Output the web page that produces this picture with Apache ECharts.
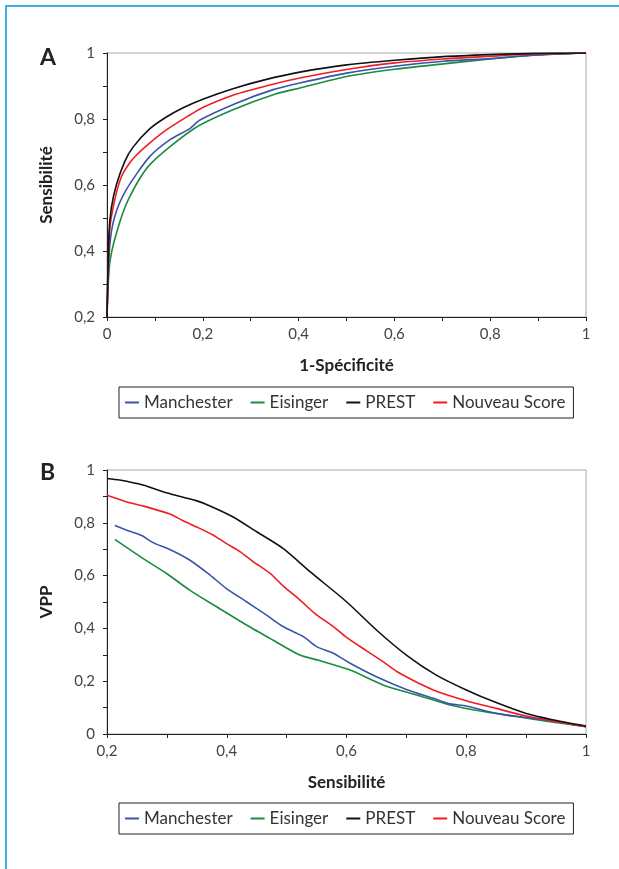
<!DOCTYPE html>
<html><head><meta charset="utf-8">
<script src="https://cdn.jsdelivr.net/npm/echarts@6/dist/echarts.min.js"></script>
<style>
html,body{margin:0;padding:0;background:#fff;}
#chart{width:619px;height:869px;}
#frame{position:absolute;left:5px;top:5px;width:620px;height:870px;border-top:2px solid #3fb0e3;border-left:2px solid #3fb0e3;pointer-events:none;}
</style></head>
<body><div id="chart"></div><div id="frame"></div>
<script>
// Panel A : ROC curves [1-Spécificité, Sensibilité]
const rocManchester = [[0,0.2],[0.0056,0.413],[0.016,0.504],[0.04,0.585],[0.089,0.686],[0.131,0.737],[0.173,0.771],[0.194,0.797],[0.27,0.848],[0.347,0.889],[0.4025,0.909],[0.5,0.939],[0.601,0.96],[0.702,0.975],[0.8,0.983],[0.89,0.993],[1,1]];
const rocEisinger = [[0,0.2],[0.0056,0.362],[0.0195,0.453],[0.044,0.554],[0.089,0.661],[0.183,0.772],[0.263,0.828],[0.35,0.875],[0.4025,0.894],[0.5,0.929],[0.601,0.951],[0.702,0.967],[0.8,0.982],[0.89,0.993],[1,1]];
const rocPREST = [[0,0.2],[0.004,0.45],[0.009,0.53],[0.0195,0.6],[0.037,0.671],[0.054,0.714],[0.089,0.77],[0.124,0.806],[0.159,0.834],[0.2,0.86],[0.263,0.892],[0.333,0.92],[0.4025,0.942],[0.5,0.964],[0.601,0.978],[0.702,0.989],[0.8,0.995],[0.89,0.999],[1,1]];
const rocNouveau = [[0,0.2],[0.0056,0.463],[0.016,0.554],[0.03,0.625],[0.044,0.66],[0.061,0.69],[0.089,0.727],[0.124,0.767],[0.173,0.812],[0.2,0.835],[0.263,0.872],[0.34,0.903],[0.4025,0.924],[0.5,0.95],[0.601,0.97],[0.702,0.982],[0.8,0.99],[0.89,0.997],[1,1]];
// Panel B : [Sensibilité, VPP]
const vppManchester = [[0.213,0.79],[0.232,0.773],[0.257,0.753],[0.277,0.725],[0.305,0.699],[0.338,0.659],[0.372,0.602],[0.399,0.552],[0.433,0.501],[0.466,0.451],[0.494,0.407],[0.528,0.369],[0.55,0.331],[0.578,0.306],[0.606,0.268],[0.65,0.217],[0.7,0.169],[0.745,0.135],[0.773,0.114],[0.8,0.106],[0.85,0.078],[0.9,0.062],[0.951,0.047],[1,0.028]];
const vppEisinger = [[0.213,0.737],[0.26,0.665],[0.299,0.609],[0.338,0.545],[0.383,0.482],[0.433,0.413],[0.477,0.356],[0.522,0.299],[0.555,0.278],[0.606,0.242],[0.661,0.186],[0.717,0.148],[0.773,0.11],[0.829,0.085],[0.884,0.066],[0.94,0.047],[1,0.028]];
const vppPREST = [[0.2,0.968],[0.221,0.962],[0.26,0.943],[0.299,0.914],[0.349,0.884],[0.372,0.864],[0.41,0.823],[0.45,0.766],[0.494,0.703],[0.539,0.615],[0.6,0.501],[0.65,0.394],[0.7,0.299],[0.75,0.223],[0.8,0.167],[0.85,0.119],[0.9,0.078],[0.951,0.051],[1,0.03]];
const vppNouveau = [[0.2,0.904],[0.232,0.88],[0.26,0.864],[0.305,0.833],[0.327,0.808],[0.349,0.785],[0.377,0.754],[0.399,0.722],[0.422,0.691],[0.444,0.653],[0.472,0.609],[0.494,0.561],[0.522,0.508],[0.55,0.451],[0.578,0.407],[0.6,0.366],[0.633,0.316],[0.661,0.274],[0.689,0.23],[0.745,0.167],[0.8,0.126],[0.85,0.097],[0.9,0.068],[0.951,0.047],[1,0.028]];

const seriesNames = ['Manchester','Eisinger','PREST','Nouveau Score'];
const seriesColors = ['#3a55a8','#1a8c40','#111111','#ee1d23'];

const FONT = 'Lato';
function fmt(v){
  const k = Math.round(v*10);
  if (k % 2 !== 0) return '';
  if (k === 0) return '0';
  if (k === 10) return '1';
  return (k/10).toFixed(1).replace('.', ',');
}
function xAxisCfg(idx, min, name){
  return {type:'value', gridIndex:idx, min:min, max:1, interval:0.1,
    name:name, nameLocation:'middle', nameGap:40,
    nameTextStyle:{fontFamily:FONT, fontWeight:'bold', fontSize:17, color:'#222'},
    axisLine:{show:true, onZero:false, lineStyle:{color:'#222', width:1}},
    axisTick:{show:true, length:4, lineStyle:{color:'#222'}},
    axisLabel:{formatter:fmt, fontFamily:FONT, fontSize:15, color:'#444', margin:10, showMinLabel:true, showMaxLabel:true},
    splitLine:{show:false}};
}
function yAxisCfg(idx, min, name){
  return {type:'value', gridIndex:idx, min:min, max:1, interval:0.1,
    name:name, nameLocation:'middle', nameGap:52, nameRotate:90,
    nameTextStyle:{fontFamily:FONT, fontWeight:'bold', fontSize:17, color:'#222'},
    axisLine:{show:true, onZero:false, lineStyle:{color:'#222', width:1}},
    axisTick:{show:true, length:4, lineStyle:{color:'#222'}},
    axisLabel:{formatter:fmt, fontFamily:FONT, fontSize:15, color:'#444', margin:12, showMinLabel:true, showMaxLabel:true},
    splitLine:{show:false}};
}
const dataA = [rocManchester, rocEisinger, rocPREST, rocNouveau];
const dataB = [vppManchester, vppEisinger, vppPREST, vppNouveau];
const series = [];
const zOrder = [2,1,4,3];
dataA.forEach((d,i)=>series.push({type:'line', name:seriesNames[i], xAxisIndex:0, yAxisIndex:0, data:d, smooth:0.25, showSymbol:false, lineStyle:{color:seriesColors[i], width:1.6}, itemStyle:{color:seriesColors[i]}, z:zOrder[i]}));
dataB.forEach((d,i)=>series.push({type:'line', name:seriesNames[i], xAxisIndex:1, yAxisIndex:1, data:d, smooth:0.25, showSymbol:false, lineStyle:{color:seriesColors[i], width:1.6}, itemStyle:{color:seriesColors[i]}, z:zOrder[i]}));

function legendCfg(top){
  return {show:true, left:119, top:top, data:seriesNames, orient:'horizontal',
    borderColor:'#222', borderWidth:1, padding:[7,8,7,6], itemGap:18,
    itemWidth:14, itemHeight:2, icon:'rect',
    textStyle:{fontFamily:FONT, fontSize:17, color:'#333'}};
}
const chart = echarts.init(document.getElementById('chart'), null, {renderer:'canvas'});
chart.setOption({
  animation:false,
  backgroundColor:'#fff',
  grid:[
    {left:107, top:53, width:479, height:264, show:true, borderColor:'#aaa', borderWidth:1, backgroundColor:'transparent'},
    {left:107, top:470, width:479, height:264, show:true, borderColor:'#aaa', borderWidth:1, backgroundColor:'transparent'}
  ],
  xAxis:[xAxisCfg(0,0,'1-Spécificité'), xAxisCfg(1,0.2,'Sensibilité')],
  yAxis:[yAxisCfg(0,0.2,'Sensibilité'), yAxisCfg(1,0,'VPP')],
  legend:[legendCfg(387), legendCfg(803)],
  graphic:[
    {type:'text', left:40, top:46, style:{text:'A', font:'bold 23px '+FONT, fill:'#222'}},
    {type:'text', left:40, top:461, style:{text:'B', font:'bold 23px '+FONT, fill:'#222'}}
  ],
  series:series
});
</script></body></html>
